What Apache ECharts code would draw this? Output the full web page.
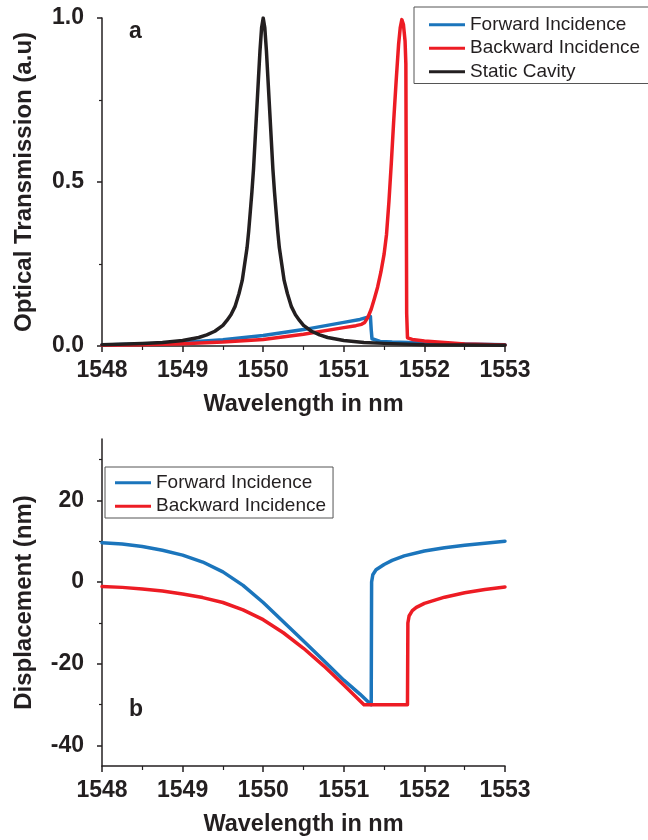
<!DOCTYPE html>
<html>
<head>
<meta charset="utf-8">
<script src="https://cdn.jsdelivr.net/npm/echarts@6.0.0/dist/echarts.min.js"></script>
<style>
    html, body { margin: 0; padding: 0; background: #fff; }
    #chart { width: 648px; height: 840px; }
</style>
</head>
<body>
<div id="chart"></div>
<script>
// panel a: optical transmission
let fwdX = [1548, 1548.5, 1549, 1549.5, 1550, 1550.5, 1551, 1551.2, 1551.33, 1551.34, 1551.35, 1551.37, 1551.45, 1551.6, 1552, 1552.5, 1553];
let fwdT = [0.003, 0.006, 0.011, 0.019, 0.032, 0.05, 0.072, 0.081, 0.09, 0.05, 0.022, 0.016, 0.014, 0.012, 0.009, 0.006, 0.004];

let bwdX = [1548, 1548.5, 1549, 1549.5, 1550, 1550.5, 1551, 1551.15, 1551.22, 1551.26, 1551.3, 1551.34, 1551.38, 1551.42, 1551.46, 1551.5, 1551.53, 1551.56, 1551.59, 1551.62, 1551.65, 1551.68, 1551.7, 1551.72, 1551.74, 1551.76, 1551.77, 1551.775, 1551.78, 1551.79, 1551.85, 1552, 1552.5, 1553];
let bwdT = [0.002, 0.004, 0.007, 0.012, 0.02, 0.036, 0.056, 0.062, 0.066, 0.072, 0.088, 0.112, 0.145, 0.18, 0.225, 0.28, 0.34, 0.44, 0.56, 0.69, 0.81, 0.92, 0.97, 0.995, 0.98, 0.93, 0.86, 0.5, 0.1, 0.025, 0.02, 0.015, 0.006, 0.003];

let staticX = [1548, 1548.5, 1548.75, 1549, 1549.2, 1549.3, 1549.4, 1549.5, 1549.55, 1549.6, 1549.65, 1549.7, 1549.74, 1549.77, 1549.8, 1549.82, 1549.84, 1549.86, 1549.88, 1549.9, 1549.92, 1549.94, 1549.96, 1549.98, 1550,
    1550.02, 1550.04, 1550.06, 1550.08, 1550.1, 1550.12, 1550.14, 1550.16, 1550.18, 1550.2, 1550.23, 1550.26, 1550.3, 1550.35, 1550.4, 1550.45, 1550.5, 1550.6, 1550.7, 1550.8, 1551, 1551.25, 1551.5, 1552, 1552.5, 1553];
let staticT = [0.004, 0.008, 0.011, 0.017, 0.026, 0.034, 0.045, 0.063, 0.078, 0.095, 0.12, 0.16, 0.2, 0.25, 0.3, 0.35, 0.41, 0.47, 0.54, 0.63, 0.72, 0.81, 0.9, 0.97, 1.0,
    0.97, 0.9, 0.81, 0.72, 0.63, 0.54, 0.47, 0.41, 0.35, 0.3, 0.25, 0.2, 0.16, 0.12, 0.095, 0.078, 0.063, 0.045, 0.034, 0.026, 0.017, 0.011, 0.008, 0.004, 0.003, 0.002];

// panel b: displacement
let fwdDX = [1548, 1548.25, 1548.5, 1548.75, 1549, 1549.25, 1549.5, 1549.75, 1550, 1550.25, 1550.5, 1550.75, 1551, 1551.2, 1551.34, 1551.345, 1551.36, 1551.4, 1551.5, 1551.6, 1551.75, 1552, 1552.25, 1552.5, 1552.75, 1553];
let fwdD = [9.6, 9.3, 8.7, 7.8, 6.6, 4.9, 2.5, -0.8, -5, -9.7, -14.4, -19.2, -24, -27.4, -30, 0, 1.8, 3, 4.3, 5.3, 6.4, 7.6, 8.4, 9, 9.5, 10];

let bwdDX = [1548, 1548.25, 1548.5, 1548.75, 1549, 1549.25, 1549.5, 1549.75, 1550, 1550.25, 1550.5, 1550.75, 1551, 1551.25, 1551.79, 1551.795, 1551.81, 1551.85, 1551.9, 1552, 1552.25, 1552.5, 1552.75, 1553];
let bwdD = [-1.1, -1.3, -1.7, -2.2, -2.9, -3.8, -5.0, -6.8, -9.2, -12.4, -16.2, -20.5, -25.2, -30, -30, -10, -8.3, -7, -6.2, -5.2, -3.7, -2.6, -1.8, -1.2];

let dMajor = [-40, -20, 0, 20];
let dMinor = [-30, -10, 10, 30];

let legendNames = ["Forward Incidence", "Backward Incidence", "Static Cavity"];

let ink = "#231f20";
let font = "Liberation Sans";

function pairs(xs, ys) {
    return xs.map(function (x, i) {
        return [x, ys[i]];
    });
}

function xAxisOf(grid) {
    return {
        type: "value",
        gridIndex: grid,
        min: 1548,
        max: 1553,
        interval: 1,
        name: "Wavelength in nm",
        nameLocation: "middle",
        nameGap: 47,
        nameTextStyle: { color: ink, fontSize: 23.5, fontWeight: "bold", fontFamily: font },
        axisLine: { onZero: false, lineStyle: { color: ink, width: 1.5 } },
        axisTick: { show: true, length: 6, lineStyle: { color: ink, width: 1.5 } },
        minorTick: { show: true, splitNumber: 2, length: 4, lineStyle: { color: ink, width: 1.2 } },
        axisLabel: {
            color: ink,
            fontSize: 23,
            fontWeight: "bold",
            fontFamily: font,
            margin: 13,
            formatter: function (v) {
                return String(v);
            },
        },
        splitLine: { show: false },
    };
}

function lineSeries(name, color, data, xi, yi) {
    return {
        name: name,
        type: "line",
        xAxisIndex: xi,
        yAxisIndex: yi,
        data: data,
        showSymbol: false,
        symbol: "none",
        smooth: false,
        lineStyle: { color: color, width: 3.5, join: "round", cap: "round" },
        itemStyle: { color: color },
        animation: false,
    };
}

let chart = echarts.init(document.getElementById("chart"));

chart.setOption({
    backgroundColor: "#ffffff",
    animation: false,
    textStyle: { fontFamily: font },
    grid: [
        { left: 102, right: 143, top: 18, height: 328 },
        { left: 102, right: 143, top: 439, height: 327 },
    ],
    legend: [
        {
            orient: "vertical",
            left: 414,
            top: 7,
            padding: [8, 40, 2, 15],
            itemGap: 4,
            itemWidth: 36,
            itemHeight: 3,
            icon: "rect",
            borderColor: "#555",
            borderWidth: 1,
            textStyle: { color: ink, fontSize: 19, lineHeight: 19.5, fontFamily: font },
            data: legendNames,
        },
        {
            orient: "vertical",
            left: 105,
            top: 467,
            padding: [6, 7, 2, 10],
            itemGap: 4,
            itemWidth: 36,
            itemHeight: 3,
            icon: "rect",
            borderColor: "#555",
            borderWidth: 1,
            textStyle: { color: ink, fontSize: 19, lineHeight: 19.5, fontFamily: font },
            data: legendNames.slice(0, 2),
        },
    ],
    xAxis: [xAxisOf(0), xAxisOf(1)],
    yAxis: [
        {
            type: "value",
            gridIndex: 0,
            min: 0,
            max: 1,
            interval: 0.5,
            name: "Optical Transmission (a.u)",
            nameLocation: "middle",
            nameGap: 66,
            nameTextStyle: { color: ink, fontSize: 24, fontWeight: "bold", fontFamily: font },
            axisLine: { show: true, lineStyle: { color: ink, width: 1.5 } },
            axisTick: { show: true, length: 5, lineStyle: { color: ink, width: 1.5 } },
            minorTick: { show: true, splitNumber: 2, length: 3, lineStyle: { color: ink, width: 1.2 } },
            axisLabel: {
                color: ink,
                fontSize: 23,
                fontWeight: "bold",
                fontFamily: font,
                margin: 18,
                formatter: function (v) {
                    return v.toFixed(1);
                },
            },
            splitLine: { show: false },
        },
        {
            type: "value",
            gridIndex: 1,
            min: -45,
            max: 35,
            name: "Displacement (nm)",
            nameLocation: "middle",
            nameGap: 66,
            nameTextStyle: { color: ink, fontSize: 24, fontWeight: "bold", fontFamily: font },
            axisLine: { show: true, lineStyle: { color: ink, width: 1.5 } },
            axisTick: { show: true, length: 5, customValues: dMajor, lineStyle: { color: ink, width: 1.5 } },
            axisLabel: {
                color: ink,
                fontSize: 23,
                fontWeight: "bold",
                fontFamily: font,
                margin: 18,
                customValues: dMajor,
            },
            splitLine: { show: false },
        },
        {
            // minor ticks of panel b
            type: "value",
            gridIndex: 1,
            position: "left",
            offset: 0,
            min: -45,
            max: 35,
            axisLine: { show: false },
            axisTick: { show: true, length: 3, customValues: dMinor, lineStyle: { color: ink, width: 1.2 } },
            axisLabel: { show: false },
            splitLine: { show: false },
        },
    ],
    graphic: [
        { type: "text", left: 129, top: 20, style: { text: "a", fill: ink, font: "bold 23px Liberation Sans" } },
        { type: "text", left: 129, top: 698, style: { text: "b", fill: ink, font: "bold 23px Liberation Sans" } },
    ],
    series: [
        lineSeries(legendNames[0], "#1b75bc", pairs(fwdX, fwdT), 0, 0),
        lineSeries(legendNames[1], "#ed1c24", pairs(bwdX, bwdT), 0, 0),
        lineSeries(legendNames[2], ink, pairs(staticX, staticT), 0, 0),
        lineSeries(legendNames[0], "#1b75bc", pairs(fwdDX, fwdD), 1, 1),
        lineSeries(legendNames[1], "#ed1c24", pairs(bwdDX, bwdD), 1, 1),
    ],
});
</script>
</body>
</html>
